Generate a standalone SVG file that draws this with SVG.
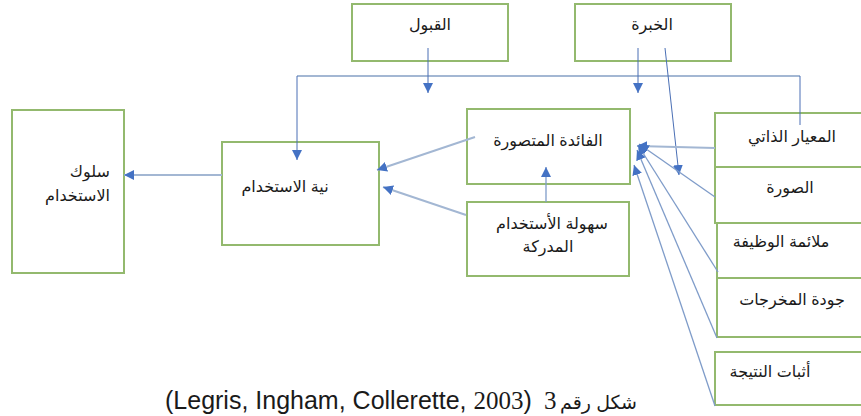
<svg xmlns="http://www.w3.org/2000/svg" width="861" height="416" viewBox="0 0 861 416">
<style>
.box{fill:#ffffff;stroke:#93b96e;stroke-width:2}
.t{font-family:"Liberation Sans","DejaVu Sans",sans-serif;font-size:16px;fill:#1a1a1a;text-anchor:middle;direction:rtl}
.thin{stroke:#4a6fb5;stroke-width:1;fill:none}
.soft{stroke:#a3b7d3;stroke-width:2;fill:none}
.mid{stroke:#7f9cc9;stroke-width:1.3;fill:none}
.cap{font-family:"Liberation Sans","DejaVu Sans",sans-serif;font-size:25px;fill:#1a1a1a}
</style>
<defs>
<marker id="ah" viewBox="0 0 10 10" refX="10" refY="5" markerWidth="10" markerHeight="10" markerUnits="userSpaceOnUse" orient="auto">
<path d="M0,0 L10,5 L0,10 z" fill="#4472c4"/>
</marker>
</defs>
<rect width="861" height="416" fill="#ffffff"/>

<g id="qabul"><rect class="box" x="352" y="4" width="156" height="57"/><text class="t" x="430" y="30">القبول</text></g>
<g id="khibra"><rect class="box" x="575" y="4" width="156" height="57"/><text class="t" x="652" y="30">الخبرة</text></g>
<g id="suluk"><rect class="box" x="12" y="110" width="112" height="163"/>
<text class="t" x="110" y="177" style="text-anchor:start">سلوك</text>
<text class="t" x="110" y="201" style="text-anchor:start">الاستخدام</text></g>
<g id="niyya"><rect class="box" x="222" y="142" width="157" height="103"/><text class="t" x="285" y="192">نية الاستخدام</text></g>
<g id="faida"><rect class="box" x="467" y="109" width="163" height="75"/><text class="t" x="548" y="146">الفائدة المتصورة</text></g>
<g id="suhula"><rect class="box" x="467" y="202" width="162" height="74"/>
<text class="t" x="552" y="229">سهولة الأستخدام</text><text class="t" x="548" y="252">المدركة</text></g>
<g id="miyar"><rect class="box" x="715" y="113" width="160" height="54"/><text class="t" x="792" y="142">المعيار الذاتي</text></g>
<g id="sura"><rect class="box" x="715" y="167" width="160" height="56"/><text class="t" x="790" y="193">الصورة</text></g>
<g id="mulaama"><rect class="box" x="717" y="223" width="160" height="55"/><text class="t" x="781" y="247">ملائمة الوظيفة</text></g>
<g id="jawda"><rect class="box" x="717" y="278" width="160" height="59"/><text class="t" x="792" y="305">جودة المخرجات</text></g>
<g id="ithbat"><rect class="box" x="715" y="352" width="160" height="53"/><text class="t" x="770" y="377">أثبات النتيجة</text></g>

<g id="connectors">
<path class="soft" d="M297,76 H800"/>
<path class="thin" d="M297,76 V160" marker-end="url(#ah)"/>
<path class="thin" d="M800,76 V125"/>
<path class="thin" d="M428,48 V93" marker-end="url(#ah)"/>
<path class="thin" d="M638,48 V93" marker-end="url(#ah)"/>
<path class="thin" d="M665,48 L679,175" marker-end="url(#ah)"/>
<path class="mid" d="M546,202 V167" marker-end="url(#ah)"/>
<path class="soft" d="M475,137 L377,170" marker-end="url(#ah)"/>
<path class="soft" d="M466,215 L383,187" marker-end="url(#ah)"/>
<path class="soft" d="M222,175 L124,175" marker-end="url(#ah)"/>
<path class="soft" d="M715,148 L637,146" marker-end="url(#ah)"/>
<path class="mid" d="M715,197 L639,144" marker-end="url(#ah)"/>
<path class="mid" d="M718,272 L638,145" marker-end="url(#ah)"/>
<path class="mid" d="M717,338 L637,150" marker-end="url(#ah)"/>
<path class="mid" d="M715,406 L634,165" marker-end="url(#ah)"/>
</g>

<text class="cap" x="165" y="409">(Legris, Ingham, Collerette, <tspan style="font-family:'Liberation Serif',serif">2003</tspan>)</text>
<text class="cap" x="544" y="409" style="font-family:'Liberation Serif',serif">3</text>
<text class="cap" x="637" y="409" style="direction:rtl;text-anchor:start;font-size:19px">شكل رقم</text>
</svg>
